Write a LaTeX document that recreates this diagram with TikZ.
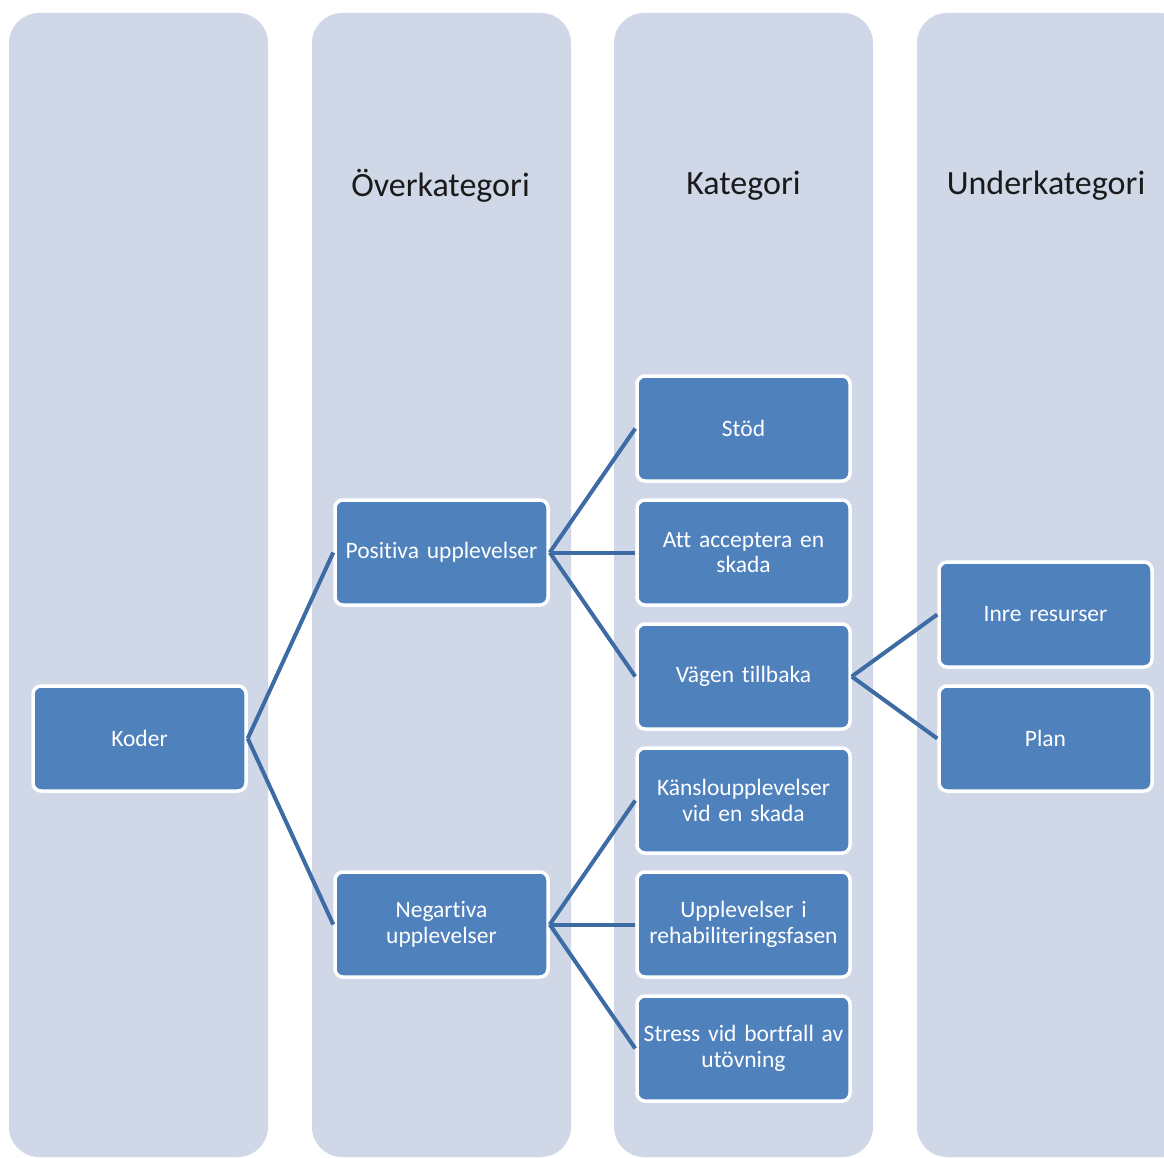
\documentclass[tikz,border=0pt]{standalone}
\usepackage{fontspec}
\setmainfont{Carlito}[Ligatures=NoCommon, WordSpace=0.75]
\definecolor{colbg}{HTML}{D0D8E8}
\definecolor{boxfill}{HTML}{4F81BD}
\definecolor{linkc}{HTML}{3D6BA3}
\definecolor{headc}{HTML}{1A1A1A}
\tikzset{
  colbox/.style={fill=colbg, rounded corners=30pt},
  head/.style={font=\fontsize{34}{40}\selectfont, text=headc, anchor=center},
  itembox/.style={rectangle, fill=boxfill, draw=white, line width=3.5pt, rounded corners=8pt,
    minimum width=213pt, minimum height=105pt, text width=209pt, align=center,
    text=white, font=\fontsize{23.5}{25.5}\selectfont, inner sep=0pt},
  link/.style={draw=linkc, line width=4pt}
}
\begin{document}
\begin{tikzpicture}[x=1pt,y=-1pt]
\useasboundingbox (0,0) rectangle (1164,1158);
\begin{scope}
\clip (0,0) rectangle (1164,1158);
\fill[colbox] (9,13) rectangle (268,1157);
\fill[colbox] (312,13) rectangle (571,1157);
\fill[colbox] (614,13) rectangle (873,1157);
\fill[colbox] (917,13) rectangle (1190,1157);
\end{scope}
\node[head] (h2) at (440.5,186) {Överkategori};
\node[head] (h3) at (743.5,186) {Kategori};
\node[head] (h4) at (1046,186) {Underkategori};

\node[itembox] (koder) at (139.5,738.5) {Koder};
\node[itembox] (pos) at (441.5,552.5) {Positiva upplevelser};
\node[itembox] (neg) at (441.5,924.5) {Negartiva\\upplevelser};
\node[itembox] (stod) at (743.5,428.5) {Stöd};
\node[itembox] (acc) at (743.5,552.5) {Att acceptera en\\skada};
\node[itembox] (vag) at (743.5,676.5) {Vägen tillbaka};
\node[itembox] (kansl) at (743.5,800.5) {Känsloupplevelser\\vid en skada};
\node[itembox] (upp) at (743.5,924.5) {Upplevelser i\\rehabiliteringsfasen};
\node[itembox] (stress) at (743.5,1048.5) {Stress vid bortfall av\\utövning};
\node[itembox] (inre) at (1045.5,614.5) {Inre resurser};
\node[itembox] (plan) at (1045.5,738.5) {Plan};

\draw[link] (koder.east) -- (pos.west);
\draw[link] (koder.east) -- (neg.west);
\draw[link] (pos.east) -- (stod.west);
\draw[link] (pos.east) -- (acc.west);
\draw[link] (pos.east) -- (vag.west);
\draw[link] (neg.east) -- (kansl.west);
\draw[link] (neg.east) -- (upp.west);
\draw[link] (neg.east) -- (stress.west);
\draw[link] (vag.east) -- (inre.west);
\draw[link] (vag.east) -- (plan.west);
\end{tikzpicture}
\end{document}
